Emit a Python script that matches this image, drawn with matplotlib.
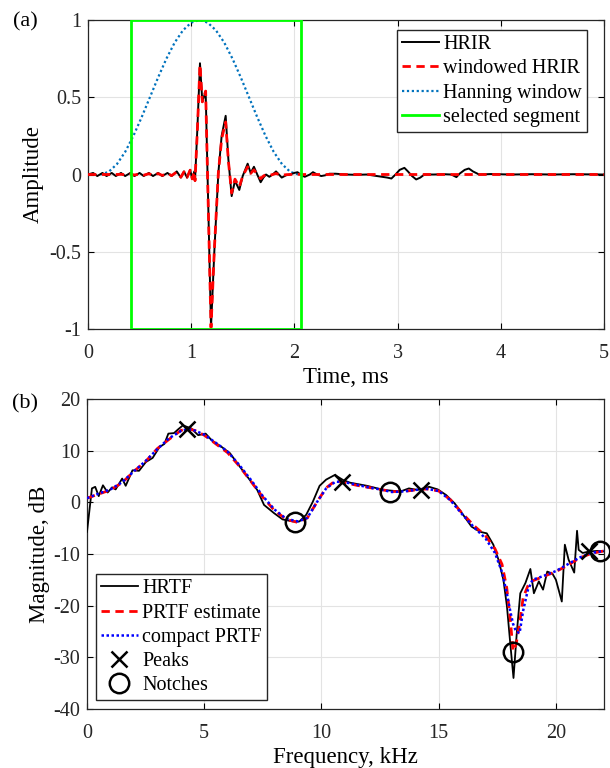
import matplotlib

matplotlib.use("Agg")
import matplotlib.pyplot as plt
from matplotlib.patches import Rectangle

plt.rcParams.update({
    "font.family": ["Liberation Serif", "DejaVu Serif"],
    "font.size": 14.5,
    "axes.unicode_minus": False,
    "axes.linewidth": 0.9,
    "axes.edgecolor": "#262626",
    "xtick.direction": "in", "ytick.direction": "in",
    "xtick.top": True, "ytick.right": True,
    "xtick.major.size": 4, "ytick.major.size": 4,
    "xtick.major.pad": 11, "ytick.major.pad": 5,
    "grid.color": "#e3e3e3", "grid.linewidth": 0.8,
})

# ---- (a) time domain ----
t_hrir = [0.00, 0.05, 0.09, 0.14, 0.18, 0.23, 0.27, 0.32, 0.36, 0.41, 0.45, 0.50, 0.54,
          0.59, 0.63, 0.68, 0.72, 0.77, 0.81, 0.86, 0.90, 0.93, 0.96, 0.99, 1.01, 1.03,
          1.037, 1.06, 1.085, 1.108, 1.14, 1.192, 1.224, 1.263, 1.295, 1.334, 1.36, 1.392,
          1.424, 1.466, 1.499, 1.547, 1.576, 1.608, 1.64, 1.673, 1.70, 1.725, 1.757, 1.79,
          1.822, 1.85, 1.877, 1.92, 1.957, 2.00, 2.03, 2.07, 2.10, 2.15, 2.18, 2.22, 2.26,
          2.30, 2.34, 2.40, 2.50, 2.60, 2.70, 2.80, 2.90, 2.94, 2.98, 3.02, 3.066, 3.10,
          3.14, 3.18, 3.22, 3.26, 3.35, 3.45, 3.52, 3.57, 3.60, 3.65, 3.69, 3.73, 3.79,
          3.90, 4.10, 4.30, 4.50, 4.70, 5.00]
a_hrir = [0.00, 0.01, -0.01, 0.01, -0.01, 0.01, -0.01, 0.01, -0.01, 0.01, -0.01, 0.01, -0.01,
          0.01, -0.01, 0.01, -0.01, 0.01, -0.01, 0.02, -0.02, 0.02, -0.02, 0.03, -0.03, 0.02,
          -0.04, 0.30, 0.72, 0.47, 0.54, -0.99, -0.50, 0.01, 0.25, 0.38, 0.10, -0.14,
          -0.04, -0.10, -0.01, 0.07, 0.01, 0.05, 0.00, -0.05, -0.02, 0.00, -0.015, 0.00,
          0.02, 0.00, -0.02, -0.005, 0.00, 0.01, 0.015, -0.005, -0.015, 0.00, 0.015, 0.00, -0.01,
          -0.005, 0.005, 0.005, 0.00, -0.002, 0.00, -0.01, -0.02, -0.026, 0.00, 0.03, 0.043, 0.02,
          -0.01, -0.032, -0.02, 0.00, 0.00, 0.002, 0.00, -0.017, 0.005, 0.03, 0.039, 0.02, 0.00,
          0.003, 0.00, 0.002, 0.00, 0.002, 0.00]

t_win = [0.00, 0.14, 0.27, 0.32, 0.36, 0.41, 0.45, 0.50, 0.54, 0.59, 0.63, 0.68, 0.72,
         0.77, 0.81, 0.86, 0.90, 0.93, 0.96, 0.99, 1.01, 1.03, 1.037, 1.06, 1.085, 1.108,
         1.14, 1.192, 1.224, 1.263, 1.295, 1.334, 1.36, 1.392, 1.424, 1.466, 1.499, 1.547,
         1.576, 1.608, 1.64, 1.673, 1.70, 1.725, 1.757, 1.79, 1.822, 1.85, 1.877, 1.92,
         1.957, 2.00, 2.03, 2.07, 5.00]
a_win = [0.00, 0.00, 0.00, 0.001, -0.0015, 0.002, -0.003, 0.003, -0.004, 0.005, -0.005,
         0.006, -0.006, 0.007, -0.007, 0.016, -0.017, 0.017, -0.018, 0.028, -0.028, 0.019,
         -0.04, 0.29, 0.71, 0.47, 0.54, -0.99, -0.49, 0.01, 0.23, 0.34, 0.09, -0.12, -0.03,
         -0.08, -0.01, 0.05, 0.007, 0.03, 0.00, -0.027, -0.01, 0.00, -0.006, 0.00, 0.007,
         0.00, -0.005, -0.001, 0.00, 0.001, 0.001, 0.00, 0.00]

t_hann = [0.12, 0.20, 0.28, 0.36, 0.44, 0.52, 0.60, 0.68, 0.76, 0.84, 0.92, 1.00, 1.08,
          1.16, 1.24, 1.32, 1.40, 1.48, 1.56, 1.64, 1.72, 1.80, 1.88, 1.96, 2.04]
w_hann = [0.00, 0.017, 0.067, 0.146, 0.25, 0.371, 0.50, 0.629, 0.75, 0.854, 0.933, 0.983,
          1.00, 0.983, 0.933, 0.854, 0.75, 0.629, 0.50, 0.371, 0.25, 0.146, 0.067, 0.017, 0.00]

seg_start, seg_end = 0.42, 2.06

# ---- (b) frequency domain ----
f_hrtf = [0.00, 0.21, 0.35, 0.50, 0.68, 0.88, 1.07, 1.22, 1.50, 1.65, 1.94, 2.22, 2.51,
          2.80, 3.09, 3.30, 3.47, 3.71, 3.88, 4.09, 4.45, 4.74, 5.06, 5.32, 5.75, 6.10,
          6.47, 6.90, 7.26, 7.55, 7.98, 8.34, 8.78, 9.06, 9.35, 9.63, 9.92, 10.20, 10.57,
          10.93, 11.22, 11.94, 12.65, 13.37, 13.73, 14.09, 14.60, 14.96, 15.32, 15.68,
          16.04, 16.40, 16.76, 17.05, 17.33, 17.55, 17.76, 17.91, 18.05, 18.19, 18.33,
          18.48, 18.70, 18.91, 19.06, 19.27, 19.45, 19.63, 19.85, 20.00, 20.25, 20.38,
          20.54, 20.78, 20.90, 20.97, 21.14, 21.43, 21.79, 22.05]
db_hrtf = [-5.7, 2.7, 3.0, 1.2, 3.3, 1.9, 2.9, 2.5, 4.6, 3.2, 6.2, 6.1, 7.8,
           8.6, 10.7, 11.3, 13.3, 13.4, 14.1, 14.9, 14.3, 13.0, 13.3, 12.0, 10.7, 9.5,
           7.2, 4.6, 2.4, -0.5, -2.1, -3.3, -3.7, -3.7, -2.4, 0.1, 3.2, 4.4, 5.3,
           4.3, 3.8, 3.2, 2.4, 2.1, 2.7, 2.4, 3.0, 2.5, 1.4, -0.2,
           -2.4, -4.7, -5.7, -6.0, -8.2, -11.1, -15.0, -20.1, -27.2, -34.0, -25.3,
           -17.6, -15.6, -12.9, -17.6, -15.3, -16.9, -13.4, -13.8, -15.0, -19.2, -8.2,
           -11.1, -13.6, -5.5, -9.2, -9.8, -9.5, -9.4, -9.5]

f_prtf = [0.0, 0.5, 1.0, 1.5, 2.0, 2.5, 3.0, 3.5, 4.0, 4.3, 4.6, 5.0, 5.5, 6.0, 6.5, 7.0,
          7.5, 8.0, 8.5, 9.0, 9.4, 9.8, 10.2, 10.6, 11.0, 11.5, 12.0, 12.5, 13.0, 13.5,
          14.0, 14.5, 15.0, 15.5, 16.0, 16.5, 17.0, 17.4, 17.7, 17.9, 18.05, 18.17, 18.3,
          18.45, 18.6, 18.8, 19.0, 19.5, 20.0, 20.5, 21.0, 21.5, 22.05]
db_prtf = [0.8, 1.6, 2.4, 3.8, 6.0, 7.9, 10.4, 12.2, 13.9, 14.3, 13.9, 13.0, 11.3, 9.6, 7.0,
           4.0, 1.0, -1.6, -3.3, -3.9, -3.0, 0.0, 2.8, 4.2, 3.8, 3.3, 2.9, 2.5, 2.1, 2.1,
           2.4, 2.6, 2.2, 0.5, -2.1, -4.5, -6.5, -9.0, -12.0, -16.5, -22.5, -28.8, -27.5,
           -23.5, -18.5, -16.2, -15.2, -14.3, -13.4, -12.2, -10.8, -9.9, -9.4]
db_compact = [0.8, 1.7, 2.5, 3.9, 6.0, 8.0, 10.3, 12.4, 13.8, 14.2, 13.9, 13.1, 11.5, 9.8,
              7.2, 4.3, 1.2, -1.4, -3.2, -3.7, -3.0, 0.0, 2.7, 4.0, 3.9, 3.4, 2.9, 2.5, 2.0,
              2.1, 2.4, 2.6, 2.2, 0.4, -2.3, -4.8, -7.0, -9.8, -13.5, -17.5, -21.0, -23.5,
              -25.0, -25.3, -21.0, -17.0, -15.0, -14.2, -13.3, -12.0, -10.7, -9.8, -9.4]

f_peaks = [4.28, 10.86, 14.24, 21.40]
db_peaks = [14.1, 4.0, 2.4, -9.4]
f_notches = [8.88, 12.92, 18.19, 21.90]
db_notches = [-3.9, 2.0, -29.0, -9.4]

C_HANN = "#0072BD"
LEG = dict(borderaxespad=0, fancybox=False, framealpha=1, edgecolor="#262626",
           handlelength=1.85, handletextpad=0.2, labelspacing=0.25, borderpad=0.25,
           fontsize=14.5)

fig = plt.figure(figsize=(6.1, 7.68), dpi=100)
ax1 = fig.add_axes([88 / 610, 1 - 329 / 768, 516 / 610, 309 / 768])
ax2 = fig.add_axes([87 / 610, 1 - 709 / 768, 517 / 610, 310 / 768])

ax1.plot(t_hrir, a_hrir, color="k", lw=1.4, label="HRIR", zorder=3)
ax1.plot(t_win, a_win, color="r", lw=2.0, ls=(0, (3, 2)), label="windowed HRIR", zorder=4)
ax1.plot(t_hann, w_hann, color=C_HANN, lw=1.6, ls=(0, (1, 1.2)), label="Hanning window", zorder=2)
ax1.add_patch(Rectangle((seg_start, -1), seg_end - seg_start, 2, fill=False,
                        edgecolor="#00ff00", lw=2.0, zorder=5))
ax1.plot([], [], color="#00ff00", lw=2.0, label="selected segment")
ax1.set_xlim(0, 5)
ax1.set_ylim(-1, 1)
ax1.set_xticks([0, 1, 2, 3, 4, 5])
ax1.set_yticks([-1, -0.5, 0, 0.5, 1])
ax1.set_yticklabels(["-1", "-0.5", "0", "0.5", "1"])
ax1.grid(True)
ax1.set_axisbelow(True)
ax1.set_xlabel("Time, ms", labelpad=3, fontsize=16.5)
ax1.set_ylabel("Amplitude", labelpad=4, fontsize=16.5)
ax1.legend(loc="upper right", bbox_to_anchor=(0.967, 0.967), **LEG)

ax2.plot(f_hrtf, db_hrtf, color="k", lw=1.3, label="HRTF", zorder=3)
ax2.plot(f_prtf, db_prtf, color="r", lw=2.0, ls=(0, (3, 2)), label="PRTF estimate", zorder=4)
ax2.plot(f_prtf, db_compact, color="#0000ff", lw=1.8, ls=(0, (1, 1)), label="compact PRTF", zorder=5)
ax2.plot(f_peaks, db_peaks, ls="none", marker="x", ms=11, mew=1.8, color="k", label="Peaks",
         zorder=6, clip_on=False)
ax2.plot(f_notches, db_notches, ls="none", marker="o", ms=14, mew=1.8, mfc="none", color="k",
         label="Notches", zorder=6, clip_on=False)
ax2.set_xlim(0, 22.05)
ax2.set_ylim(-40, 20)
ax2.set_xticks([0, 5, 10, 15, 20])
ax2.set_yticks([-40, -30, -20, -10, 0, 10, 20])
ax2.grid(True)
ax2.set_axisbelow(True)
ax2.set_xlabel("Frequency, kHz", labelpad=3, fontsize=16.5)
ax2.set_ylabel("Magnitude, dB", labelpad=2, fontsize=16.5)
ax2.legend(loc="lower left", bbox_to_anchor=(0.017, 0.029), **LEG)

for ax in (ax1, ax2):
    for lab in ax.get_xticklabels() + ax.get_yticklabels():
        lab.set_color("#262626")

fig.text(25 / 610, 1 - 22 / 768, "(a)", ha="center", va="center", fontsize=16)
fig.text(25 / 610, 1 - 404 / 768, "(b)", ha="center", va="center", fontsize=16)

fig.savefig("out.png", dpi=100)
